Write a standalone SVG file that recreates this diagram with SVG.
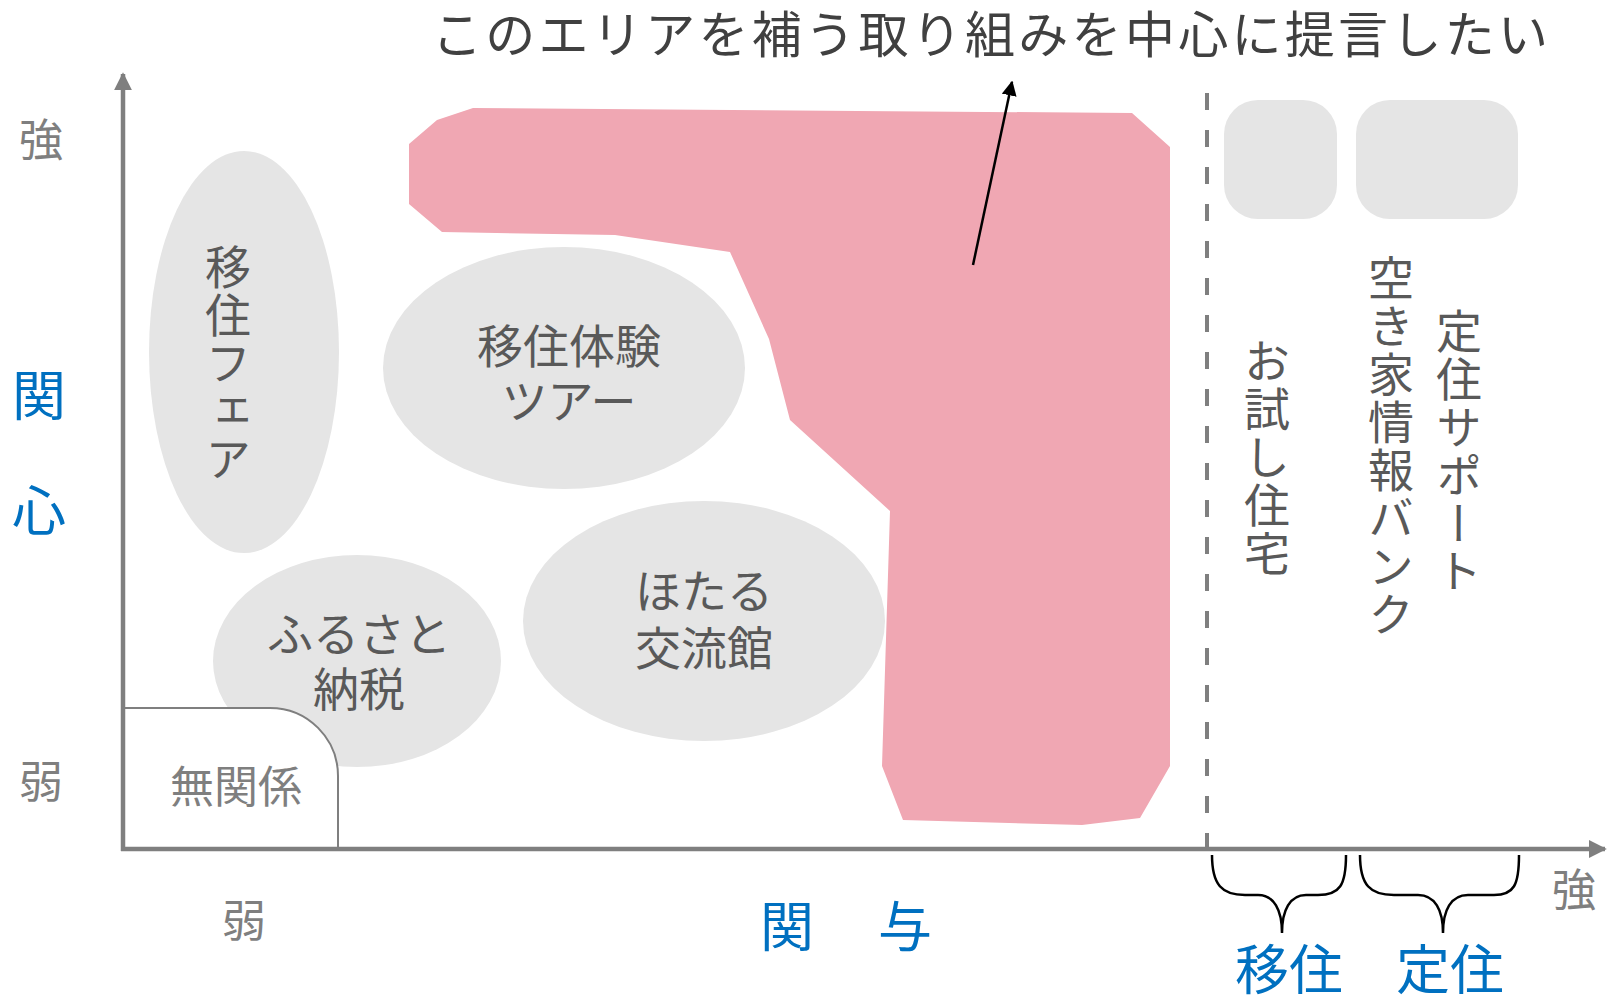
<svg xmlns="http://www.w3.org/2000/svg" width="1613" height="998" viewBox="0 0 1613 998">
<style>
text{font-family:"Noto Sans CJK JP","Noto Sans",sans-serif;dominant-baseline:central;text-anchor:middle}
.lbl{fill:#595959;font-size:46px}
.ax{fill:#7f7f7f;font-size:44px}
.blue{fill:#0070c0;font-size:54px}
.vert{writing-mode:vertical-rl;text-anchor:start;dominant-baseline:central;fill:#595959;font-size:46px;letter-spacing:2px}
.ell{fill:#e5e5e5}
.axis{stroke:#7f7f7f;stroke-width:4.5;fill:none}
.brace{stroke:#000;stroke-width:2.5;fill:none}
</style>
<defs>
<marker id="ah" viewBox="0 0 10 10" refX="9" refY="5" markerWidth="4" markerHeight="4" orient="auto"><path d="M0,0 L10,5 L0,10 z" fill="#7f7f7f"/></marker>
<marker id="bh" viewBox="0 0 10 10" refX="9" refY="5" markerWidth="6" markerHeight="6" orient="auto"><path d="M0,0 L10,5 L0,10 z" fill="#000"/></marker>
</defs>
<rect width="1613" height="998" fill="#fff"/>
<g id="pink-area">
<polygon points="473,108 1132,113 1170,147 1170,766 1140,818 1082,825 903,820 882,766 890,511 790,420 769,339 730,252 615,235 442,232 409,204 409,144 437,120" fill="#f0a7b3"/>
</g>
<g id="node-fair">
<ellipse class="ell" cx="244" cy="352" rx="95" ry="201"/>
<text class="vert" x="228" y="244">移住フェア</text>
</g>
<g id="node-tour">
<ellipse class="ell" cx="564" cy="368" rx="181" ry="121"/>
<text class="lbl" x="569" y="343">移住体験</text>
<text class="lbl" x="569" y="398">ツアー</text>
</g>
<g id="node-hotaru">
<ellipse class="ell" cx="704" cy="621" rx="181" ry="120"/>
<text class="lbl" x="704" y="588">ほたる</text>
<text class="lbl" x="704" y="645">交流館</text>
</g>
<g id="node-furusato">
<ellipse class="ell" cx="357" cy="661" rx="144" ry="106"/>
<text class="lbl" x="359" y="631">ふるさと</text>
<text class="lbl" x="359" y="686">納税</text>
</g>
<g id="node-mukankei">
<path d="M123,849 L123,708 L270,708 A68,68 0 0 1 338,776 L338,849" fill="#fff" stroke="#7f7f7f" stroke-width="2"/>
<text x="236" y="784" fill="#7f7f7f" font-size="44">無関係</text>
</g>
<g id="node-otameshi">
<rect x="1224" y="100" width="113" height="119" rx="34" fill="#e5e5e5"/>
<text class="vert" x="1267" y="338">お試し住宅</text>
</g>
<g id="node-akiya">
<rect x="1356" y="100" width="162" height="119" rx="34" fill="#e5e5e5"/>
<text class="vert" x="1391" y="255">空き家情報バンク</text>
<text class="vert" x="1459" y="308">定住サポート</text>
</g>
<g id="connectors">
<line class="axis" x1="123" y1="851" x2="123" y2="74" marker-end="url(#ah)"/>
<line class="axis" x1="121" y1="849" x2="1605" y2="849" marker-end="url(#ah)"/>
<line x1="1207" y1="93" x2="1207" y2="849" stroke="#7f7f7f" stroke-width="4" stroke-dasharray="17,20"/>
<line x1="973" y1="265" x2="1012" y2="82" stroke="#000" stroke-width="2.5" marker-end="url(#bh)"/>
<path class="brace" d="M1212,855 C1212,885 1222,895 1245,895 L1258,895 C1274,895 1282,910 1282,933 C1282,910 1290,895 1306,895 L1318,895 C1340,895 1346,885 1346,855"/>
<path class="brace" d="M1360,855 C1360,885 1370,895 1394,895 L1418,895 C1435,895 1443,910 1443,933 C1443,910 1451,895 1468,895 L1494,895 C1514,895 1519,885 1519,855"/>
</g>
<g id="labels">
<text x="990" y="31" fill="#404040" font-size="50" textLength="1116" lengthAdjust="spacing">このエリアを補う取り組みを中心に提言したい</text>
<text class="ax" x="41" y="137">強</text>
<text class="ax" x="41" y="779">弱</text>
<text class="ax" x="244" y="918">弱</text>
<text class="ax" x="1574" y="887">強</text>
<text class="blue" x="39" y="392">関</text>
<text class="blue" x="39" y="507">心</text>
<text class="blue" x="787" y="923">関</text>
<text class="blue" x="905" y="923">与</text>
<text class="blue" x="1289" y="966" font-size="55">移住</text>
<text class="blue" x="1450" y="966" font-size="55">定住</text>
</g>
</svg>
